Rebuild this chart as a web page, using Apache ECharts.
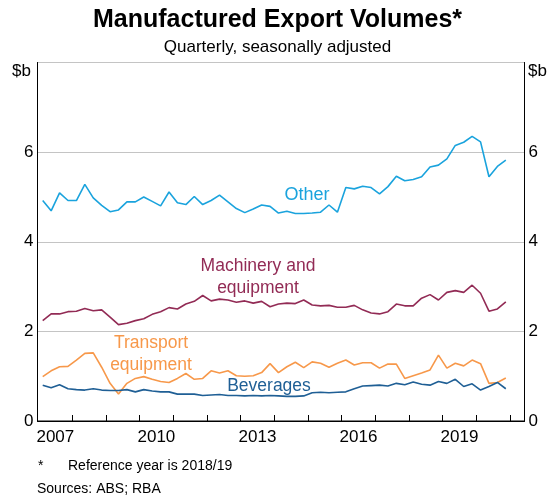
<!DOCTYPE html>
<html>
<head>
<meta charset="utf-8">
<script src="https://cdn.jsdelivr.net/npm/echarts@6/dist/echarts.min.js"></script>
<style>
  html, body { margin: 0; padding: 0; background: #fff; }
  #chart { width: 555px; height: 502px; }
</style>
</head>
<body>
<div id="chart"></div>
<script>
// 季度数据，2007 Q1 - 2020 Q4
var startYear = 2007;
var yearLabels = ["2007", "2010", "2013", "2016", "2019"];
var yTicks = [0, 2, 4, 6];

var other = [
  4.92, 4.69, 5.09, 4.92, 4.92, 5.28, 4.98, 4.81, 4.67, 4.71, 4.89, 4.89,
  5.0, 4.9, 4.8, 5.11, 4.87, 4.83, 5.01, 4.83, 4.92, 5.04, 4.89, 4.74,
  4.65, 4.73, 4.82, 4.79, 4.64, 4.68, 4.63, 4.63, 4.64, 4.66, 4.82, 4.66,
  5.21, 5.18, 5.24, 5.21, 5.07, 5.23, 5.46, 5.36, 5.39, 5.45, 5.67, 5.71,
  5.85, 6.15, 6.22, 6.35, 6.23, 5.45, 5.68, 5.82,
];
var machinery = [
  2.24, 2.39, 2.39, 2.44, 2.45, 2.51, 2.46, 2.48, 2.32, 2.15, 2.18, 2.24,
  2.28, 2.38, 2.44, 2.53, 2.5, 2.61, 2.67, 2.8, 2.68, 2.72, 2.7, 2.65,
  2.68, 2.63, 2.67, 2.55, 2.61, 2.63, 2.62, 2.7, 2.59, 2.57, 2.58, 2.54,
  2.54, 2.58, 2.48, 2.41, 2.39, 2.44, 2.61, 2.57, 2.57, 2.74, 2.82, 2.7,
  2.87, 2.91, 2.87, 3.03, 2.85, 2.45, 2.5, 2.66,
];
var transport = [
  0.99, 1.12, 1.21, 1.22, 1.36, 1.51, 1.52, 1.2, 0.84, 0.6, 0.84, 0.95,
  0.99, 0.93, 0.88, 0.86, 0.95, 1.06, 0.93, 0.95, 1.12, 1.07, 1.12, 1.01,
  1.0, 1.01, 1.08, 1.28, 1.08, 1.21, 1.31, 1.19, 1.32, 1.29, 1.2, 1.29,
  1.36, 1.25, 1.3, 1.3, 1.18, 1.27, 1.27, 0.95, 1.01, 1.07, 1.14, 1.47,
  1.18, 1.29, 1.23, 1.36, 1.28, 0.84, 0.86, 0.96,
];
var beverages = [
  0.8, 0.74, 0.81, 0.72, 0.7, 0.69, 0.72, 0.69, 0.68, 0.68, 0.7, 0.65,
  0.7, 0.67, 0.65, 0.65, 0.6, 0.6, 0.6, 0.57, 0.58, 0.59, 0.57, 0.57,
  0.56, 0.57, 0.56, 0.57, 0.56, 0.55, 0.55, 0.56, 0.63, 0.64, 0.63, 0.64,
  0.65, 0.72, 0.78, 0.79, 0.8, 0.78, 0.84, 0.81, 0.87, 0.82, 0.8, 0.88,
  0.84, 0.93, 0.77, 0.83, 0.69, 0.77, 0.86, 0.72,
];

var FONT = "Liberation Sans, Arial, sans-serif";
var C_OTHER = "#1aa3dd";
var C_MACH = "#922b55";
var C_TRANS = "#f7984a";
var C_BEV = "#1f5f95";

// 季度中点
function toPairs(arr) {
  return arr.map(function (v, i) {
    return [startYear + (i + 0.5) / 4, v];
  });
}

function yLabel(v) {
  return yTicks.indexOf(v) >= 0 ? String(v) : "";
}

var ticksX = [];
for (var y = 2008; y <= 2021; y++) ticksX.push(y);

var options = {
  animation: false,
  title: {
    text: "Manufactured Export Volumes*",
    subtext: "Quarterly, seasonally adjusted",
    left: "center",
    top: 3,
    itemGap: 6,
    textStyle: {
      fontFamily: FONT,
      fontSize: 25,
      fontWeight: "bold",
      color: "#000",
    },
    subtextStyle: {
      fontFamily: FONT,
      fontSize: 17,
      color: "#000",
    },
  },
  grid: {
    left: 37.5,
    right: 30.5,
    top: 62.5,
    bottom: 81,
    show: true,
    borderColor: "#000",
    borderWidth: 1,
  },
  xAxis: {
    type: "value",
    min: 2006.97,
    max: 2021.43,
    axisLine: { lineStyle: { color: "#000", width: 1 } },
    axisTick: {
      inside: true,
      length: 6,
      customValues: ticksX,
      lineStyle: { color: "#000" },
    },
    axisLabel: {
      customValues: yearLabels.map(function (s) {
        return Number(s) + 0.5;
      }),
      formatter: function (v) {
        return String(Math.floor(v));
      },
      fontFamily: FONT,
      fontSize: 17,
      color: "#000",
      margin: 8,
    },
    splitLine: { show: false },
  },
  yAxis: [
    {
      type: "value",
      min: 0,
      max: 8,
      interval: 2,
      axisLine: { show: true, lineStyle: { color: "#000" } },
      axisTick: { show: false },
      axisLabel: {
        formatter: yLabel,
        fontFamily: FONT,
        fontSize: 17,
        color: "#000",
        margin: 4,
      },
      splitLine: { lineStyle: { color: "#c4c4c4", width: 1 } },
    },
    {
      type: "value",
      position: "right",
      min: 0,
      max: 8,
      interval: 2,
      axisLine: { show: true, lineStyle: { color: "#000" } },
      axisTick: { show: false },
      axisLabel: {
        formatter: yLabel,
        fontFamily: FONT,
        fontSize: 17,
        color: "#000",
        margin: 4,
      },
      splitLine: { show: false },
    },
  ],
  series: [
    { name: "Other", data: toPairs(other), color: C_OTHER },
    { name: "Machinery and equipment", data: toPairs(machinery), color: C_MACH },
    { name: "Transport equipment", data: toPairs(transport), color: C_TRANS },
    { name: "Beverages", data: toPairs(beverages), color: C_BEV },
  ].map(function (s) {
    return {
      name: s.name,
      type: "line",
      data: s.data,
      symbol: "none",
      lineStyle: { color: s.color, width: 1.6 },
      z: 3,
    };
  }),
  graphic: [
    { type: "text", left: 12, top: 63, style: { text: "$b", fontFamily: FONT, fontSize: 17, fill: "#000" } },
    { type: "text", left: 528, top: 63, style: { text: "$b", fontFamily: FONT, fontSize: 17, fill: "#000" } },
    { type: "text", x: 307, y: 195, style: { text: "Other", fontFamily: FONT, fontSize: 18, fill: C_OTHER, align: "center", verticalAlign: "middle" } },
    { type: "text", x: 258, y: 277, style: { text: "Machinery and\nequipment", fontFamily: FONT, fontSize: 17.5, lineHeight: 22, fill: C_MACH, align: "center", verticalAlign: "middle" } },
    { type: "text", x: 151, y: 354, style: { text: "Transport\nequipment", fontFamily: FONT, fontSize: 17.5, lineHeight: 22, fill: C_TRANS, align: "center", verticalAlign: "middle" } },
    { type: "text", x: 269, y: 386, style: { text: "Beverages", fontFamily: FONT, fontSize: 17.5, fill: C_BEV, align: "center", verticalAlign: "middle" } },
    { type: "text", x: 38, y: 466, style: { text: "*", fontFamily: FONT, fontSize: 14, fill: "#000", verticalAlign: "middle" } },
    { type: "text", x: 68, y: 466, style: { text: "Reference year is 2018/19", fontFamily: FONT, fontSize: 14, fill: "#000", verticalAlign: "middle" } },
    { type: "text", x: 37, y: 489, style: { text: "Sources: ABS; RBA", fontFamily: FONT, fontSize: 14, fill: "#000", verticalAlign: "middle" } },
  ],
};

var myChart = echarts.init(document.getElementById("chart"), null, { renderer: "canvas" });
myChart.setOption(options);
</script>
</body>
</html>
